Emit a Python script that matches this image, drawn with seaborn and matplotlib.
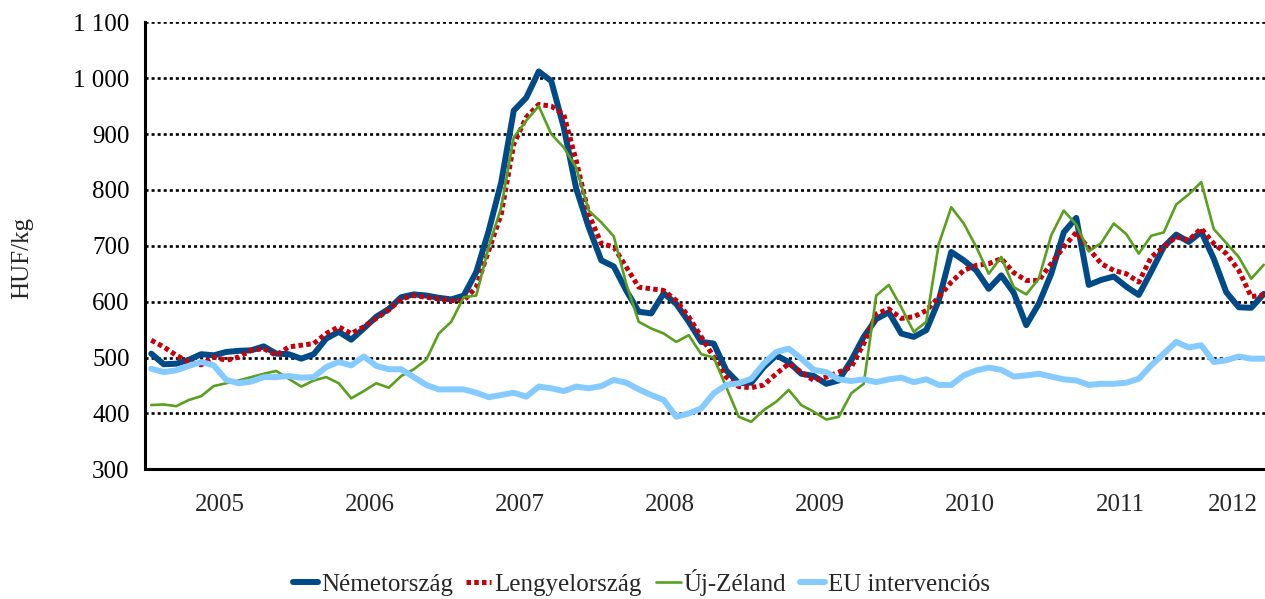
import numpy as np
import pandas as pd
import matplotlib
matplotlib.use("Agg")
import matplotlib.pyplot as plt
import matplotlib.transforms as mtransforms
from matplotlib.ticker import FixedLocator, FuncFormatter, NullFormatter
import seaborn as sns

# ---- data (monthly, Jan 2005 - Jun 2012), HUF/kg ----
years = ["2005", "2006", "2007", "2008", "2009", "2010", "2011", "2012"]
months_per_year = [12, 12, 12, 12, 12, 12, 12, 6]

nemetorszag = [507, 488, 489, 496, 506, 504, 510, 512, 513, 520, 507, 506,
               498, 506, 534, 546, 532, 552, 573, 587, 608, 613, 611, 607,
               604, 611, 653, 727, 814, 942, 965, 1012, 995, 912, 802, 733,
               674, 663, 620, 582, 579, 615, 596, 564, 528, 525, 477, 454,
               455, 483, 504, 492, 471, 467, 453, 459, 495, 537, 569, 581,
               543, 537, 549, 602, 689, 674, 656, 623, 647, 616,
               558, 596, 650, 724, 750, 630, 639, 645, 627, 612, 654, 698,
               720, 707, 725, 677, 617, 590, 589, 614]

lengyelorszag = [531, 519, 504, 492, 487, 501, 495, 501, 513, 516, 504, 519,
                 522, 525, 543, 555, 543, 555, 570, 585, 605, 611, 608, 605,
                 602, 602, 626, 692, 757, 882, 930, 953, 950, 935, 852, 757,
                 704, 698, 662, 626, 623, 620, 602, 573, 537, 501, 465, 448,
                 446, 451, 471, 489, 474, 459, 465, 474, 483, 525, 578, 587,
                 570, 573, 584, 608, 635, 656, 665, 668, 677, 652,
                 638, 638, 668, 698, 724, 695, 668, 656, 650, 635, 680, 698,
                 716, 710, 731, 704, 686, 656, 609, 612]

uj_zeland = [415, 416, 413, 424, 431, 449, 454, 459, 465, 471, 476, 462,
             448, 459, 465, 454, 427, 440, 454, 446, 467, 479, 496, 543,
             564, 608, 611, 698, 769, 894, 924, 950, 900, 876, 840, 763,
             742, 717, 632, 564, 552, 543, 528, 540, 506, 500, 447, 394,
             385, 406, 421, 442, 415, 403, 389, 394, 436, 453, 611, 630,
             590, 546, 564, 703, 769, 740, 698, 650, 680, 626,
             613, 641, 719, 763, 738, 690, 705, 740, 721, 686, 718, 724,
             774, 792, 814, 730, 705, 680, 641, 666]

eu_intervencios = [480, 474, 477, 485, 492, 486, 460, 454, 457, 465, 465, 467,
                   464, 465, 483, 492, 486, 502, 485, 479, 479, 465, 451, 443,
                   443, 443, 437, 429, 433, 437, 430, 448, 445, 440, 448, 445,
                   449, 460, 455, 443, 433, 424, 394, 400, 409, 436, 451, 454,
                   462, 489, 510, 516, 498, 478, 474, 461, 458, 461, 456, 461,
                   464, 456, 461, 451, 451, 468, 477, 482, 478, 466,
                   468, 471, 466, 461, 459, 451, 453, 453, 455, 462, 486, 507,
                   528, 518, 522, 492, 495, 502, 498, 498]

series_names = ["Németország", "Lengyelország", "Új-Zéland", "EU intervenciós"]
y_ticks = [300, 400, 500, 600, 700, 800, 900, 1000, 1100]

n = len(nemetorszag)
month_idx = np.arange(n)
df = pd.DataFrame({
    "month": np.tile(month_idx, 4),
    "value": nemetorszag + lengyelorszag + uj_zeland + eu_intervencios,
    "series": np.repeat(series_names, n),
})

# ---- styling ----
sns.set_style("white")
plt.rcParams["font.family"] = ["Liberation Serif", "DejaVu Serif"]
FS = 18

W, H = 1265, 599
fig = plt.figure(figsize=(W / 100, H / 100), dpi=100)
ax_left, ax_right = 145, 1270
ax_top, ax_bottom = 22.3, 469.3
ax = fig.add_axes([ax_left / W, 1 - ax_bottom / H,
                   (ax_right - ax_left) / W, (ax_bottom - ax_top) / H])

styles = {
    "Németország": dict(color="#004A88", lw=4.3, ls="-", z=3),
    "Lengyelország": dict(color="#C8000A", lw=3.6, ls=(0, (0.9, 0.65)), z=4),
    "Új-Zéland": dict(color="#58A01E", lw=1.9, ls="-", z=5),
    "EU intervenciós": dict(color="#86CBFF", lw=4.3, ls="-", z=6),
}

for name in series_names:
    st = styles[name]
    sub = df[df["series"] == name]
    sns.lineplot(data=sub, x="month", y="value", ax=ax, color=st["color"],
                 linewidth=st["lw"], linestyle=st["ls"], label=name,
                 zorder=st["z"], legend=False, sort=False)
for line in ax.get_lines():
    line.set_solid_joinstyle("round")
    line.set_dash_capstyle("butt")

ax.set_xlim(-0.5, n - 0.5)
ax.set_ylim(300, 1100)
ax.set_xlabel("")
ax.set_ylabel("")

# grid lines (dotted) at y ticks above 300
for yv in y_ticks[1:]:
    ax.axhline(yv, color="black", lw=1.9, ls=(0, (1.15, 1.15)), zorder=1)

# spines
for s in ["top", "right"]:
    ax.spines[s].set_visible(False)
for s in ["left", "bottom"]:
    ax.spines[s].set_linewidth(2.2)
    ax.spines[s].set_color("black")

# y ticks
ax.yaxis.set_major_locator(FixedLocator(y_ticks))
ax.yaxis.set_major_formatter(FuncFormatter(
    lambda v, p: f"{int(v):,}".replace(",", " ")))
ax.tick_params(axis="y", which="major", direction="out", length=6,
               width=1.8, pad=5, labelsize=FS, colors="black")

# x ticks: minor every month, major every year
bounds = np.cumsum([0] + months_per_year) - 0.5
ax.xaxis.set_major_locator(FixedLocator(bounds[:-1]))
ax.xaxis.set_minor_locator(FixedLocator(np.arange(n) - 0.5))
ax.xaxis.set_major_formatter(NullFormatter())
ax.tick_params(axis="x", which="major", direction="out", length=30,
               width=1.8, colors="black")
ax.tick_params(axis="x", which="minor", direction="out", length=8.5,
               width=1.8, colors="black")

trans = mtransforms.blended_transform_factory(ax.transData, ax.transAxes)
for yr, lo, hi in zip(years, bounds[:-1], bounds[1:]):
    ax.text((lo + hi) / 2, -0.08, yr, transform=trans, ha="center",
            va="center", fontsize=FS)

fig.text(22 / W, 1 - 258 / H, "HUF/kg", rotation=90, ha="center",
         va="center", fontsize=FS)

handles, labels = ax.get_legend_handles_labels()
fig.legend(handles, labels, loc="center", bbox_to_anchor=(0.507, 0.028),
           ncol=4, frameon=False, fontsize=FS, handlelength=1.0,
           handletextpad=0.12, columnspacing=0.55, borderpad=0)

fig.savefig("out.png", dpi=100)
